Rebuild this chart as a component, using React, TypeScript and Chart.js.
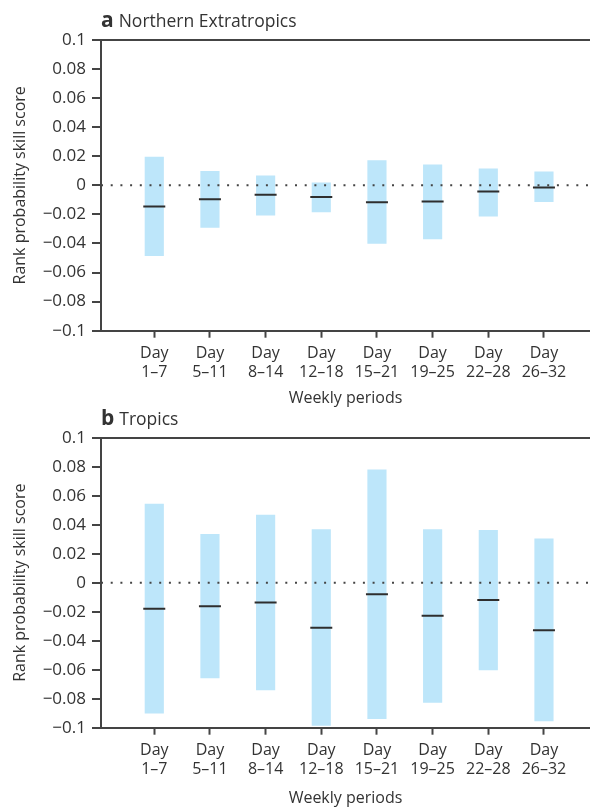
import React, { useEffect, useRef } from 'react';
import { Chart, registerables } from 'chart.js';

Chart.register(...registerables);

// Weekly forecast windows (day ranges) shown along the x axis
const periods = ['1–7', '5–11', '8–14', '12–18', '15–21', '19–25', '22–28', '26–32'];
const periodPositions = [1, 2, 3, 4, 5, 6, 7, 8];

// y axis ticks and their printed labels
const yTickValues = [0.1, 0.08, 0.06, 0.04, 0.02, 0, -0.02, -0.04, -0.06, -0.08, -0.1];
const yTickLabels = ['0.1', '0.08', '0.06', '0.04', '0.02', '0', '−0.02', '−0.04', '−0.06', '−0.08', '−0.1'];

// Panel a: Northern Extratropics (range low/high and median line)
const nhLow = [-0.0484, -0.029, -0.0205, -0.0182, -0.04, -0.0368, -0.0212, -0.0113];
const nhHigh = [0.0194, 0.0097, 0.0065, 0.0017, 0.017, 0.0141, 0.0113, 0.0093];
const nhMedian = [-0.0146, -0.0095, -0.0065, -0.0081, -0.0116, -0.0111, -0.0043, -0.0015];

// Panel b: Tropics
const trLow = [-0.0899, -0.0657, -0.074, -0.0985, -0.0938, -0.0826, -0.0602, -0.0954];
const trHigh = [0.0542, 0.0334, 0.0466, 0.0367, 0.0779, 0.0367, 0.0362, 0.0302];
const trMedian = [-0.018, -0.0162, -0.0136, -0.0311, -0.0079, -0.0228, -0.012, -0.0328];

const X_MIN = 0.043;
const X_MAX = 8.827;
const FONT = '"Open Sans", sans-serif';
const INK = '#333333';
const AXIS = '#444444';
const BAR_FILL = '#bde6fa';

type PanelProps = {
  letter: string;
  name: string;
  low: number[];
  high: number[];
  median: number[];
  top: number;
  height: number;
  padTop: number;
  padBottom: number;
  xHeight: number;
  titleBaseline: number;
};

function Panel(p: PanelProps) {
  const ref = useRef<HTMLCanvasElement | null>(null);

  useEffect(() => {
    if (!ref.current) return;
    const bars = periodPositions.map((x, i) => ({ x, y: [p.low[i], p.high[i]] }));
    const medians = periodPositions.map((x, i) => ({ x, y: p.median[i] }));

    const panelTitle = {
      id: 'panelTitle',
      afterDraw(chart: any) {
        const ctx = chart.ctx as CanvasRenderingContext2D;
        ctx.save();
        ctx.fillStyle = INK;
        ctx.textBaseline = 'alphabetic';
        ctx.textAlign = 'left';
        ctx.font = `bold 21px ${FONT}`;
        const x0 = 101;
        ctx.fillText(p.letter, x0, p.titleBaseline);
        const w = ctx.measureText(p.letter).width;
        ctx.font = `17.5px ${FONT}`;
        ctx.fillText(p.name, x0 + w + 5, p.titleBaseline);
        ctx.restore();
      },
    };

    const chart = new Chart(ref.current, {
      type: 'bar',
      data: {
        datasets: [
          {
            type: 'scatter',
            data: medians,
            pointStyle: 'line',
            pointRadius: 11,
            borderWidth: 2,
            borderColor: '#2e2e2e',
            order: 0,
          } as any,
          {
            type: 'line',
            data: [
              { x: X_MIN, y: 0 },
              { x: X_MAX, y: 0 },
            ],
            borderColor: AXIS,
            borderWidth: 2,
            borderDash: [2, 7.7],
            pointRadius: 0,
            order: 1,
          } as any,
          {
            type: 'bar',
            data: bars,
            backgroundColor: BAR_FILL,
            borderWidth: 0,
            barThickness: 18.5,
            order: 2,
          } as any,
        ],
      },
      options: {
        responsive: false,
        animation: false,
        events: [],
        layout: { autoPadding: false, padding: { top: p.padTop, bottom: p.padBottom, left: 0, right: 0 } },
        plugins: {
          legend: { display: false },
          tooltip: { enabled: false },
          title: { display: false },
        },
        scales: {
          x: {
            type: 'linear',
            min: X_MIN,
            max: X_MAX,
            offset: false,
            afterBuildTicks: (s: any) => {
              s.ticks = periodPositions.map((v) => ({ value: v }));
            },
            afterFit: (s: any) => {
              s.height = p.xHeight;
              s.paddingLeft = 0;
              s.paddingRight = 0;
            },
            ticks: {
              callback: (_v: any, i: number) => ['Day', periods[i]],
              color: INK,
              font: { family: FONT, size: 16 },
              padding: 6,
              maxRotation: 0,
              autoSkip: false,
            },
            grid: {
              offset: false,
              drawOnChartArea: false,
              tickLength: 7,
              tickColor: AXIS,
              tickWidth: 2,
            },
            border: { display: true, color: AXIS, width: 2 },
            title: {
              display: true,
              text: 'Weekly periods',
              color: INK,
              font: { family: FONT, size: 16 },
              padding: { top: 0, bottom: 0 },
            },
          },
          y: {
            type: 'linear',
            min: -0.1,
            max: 0.1,
            afterBuildTicks: (s: any) => {
              s.ticks = yTickValues.map((v) => ({ value: v }));
            },
            afterFit: (s: any) => {
              s.width = 101;
            },
            ticks: {
              callback: (_v: any, i: number) => yTickLabels[i],
              color: INK,
              font: { family: FONT, size: 17 },
              padding: 6,
              autoSkip: false,
            },
            grid: {
              drawOnChartArea: true,
              color: (ctx: any) => (ctx.tick && Math.abs(ctx.tick.value - 0.1) < 1e-9 ? AXIS : 'rgba(0,0,0,0)'),
              lineWidth: 2,
              tickLength: 9,
              tickColor: AXIS,
              tickWidth: 2,
            },
            border: { display: true, color: AXIS, width: 2 },
            title: {
              display: true,
              text: 'Rank probability skill score',
              color: INK,
              font: { family: FONT, size: 16 },
              padding: { top: 11, bottom: 0 },
            },
          },
        },
      } as any,
      plugins: [panelTitle],
    });
    return () => chart.destroy();
  }, []);

  return (
    <canvas
      ref={ref}
      width={590}
      height={p.height}
      style={{ position: 'absolute', left: 0, top: p.top, width: 590, height: p.height, display: 'block' }}
    />
  );
}

export default function App() {
  return (
    <div style={{ position: 'absolute', left: 0, top: 0, width: 590, height: 810, background: '#ffffff', overflow: 'hidden' }}>
      <Panel
        letter="a"
        name="Northern Extratropics"
        low={nhLow}
        high={nhHigh}
        median={nhMedian}
        top={0}
        height={410}
        padTop={40}
        padBottom={2.3}
        xHeight={77}
        titleBaseline={26.5}
      />
      <Panel
        letter="b"
        name="Tropics"
        low={trLow}
        high={trHigh}
        median={trMedian}
        top={405}
        height={405}
        padTop={32.7}
        padBottom={2.4}
        xHeight={79.9}
        titleBaseline={20}
      />
    </div>
  );
}
